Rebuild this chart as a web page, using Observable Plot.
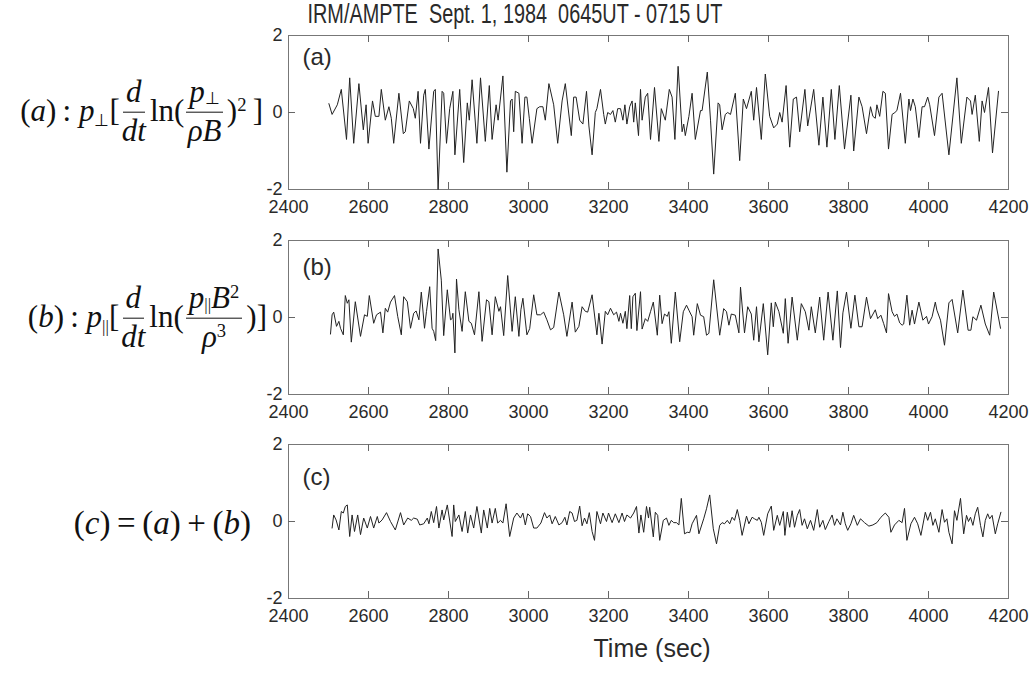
<!DOCTYPE html>
<html>
<head>
<meta charset="utf-8">
<script src="https://cdn.jsdelivr.net/npm/d3@7"></script>
<script src="https://cdn.jsdelivr.net/npm/@observablehq/plot@0.6"></script>
<style>
  html, body { margin: 0; padding: 0; background: #fff; }
  #wrap { position: relative; width: 1036px; height: 675px; overflow: hidden; background: #fff; }
  #wrap svg { position: absolute; left: 0; }
  .sans { font-family: "Liberation Sans", Arial, Helvetica, sans-serif; color: #2a2a2a; position: absolute; white-space: nowrap; }
  .eq { position: absolute; font-family: "Liberation Serif", "Times New Roman", serif; font-size: 31px; color: #111;
        display: flex; align-items: center; white-space: nowrap; transform: translateY(-50%); }
  .eq i { font-style: italic; }
  .frac { display: inline-flex; flex-direction: column; align-items: center; margin: 0 4px 0 2px; }
  .frac .n { border-bottom: 1.5px solid #111; padding: 0 3px 3px 3px; line-height: 1.1; }
  .frac .d { line-height: 1.05; padding-top: 2px; }
  .sb { font-size: 0.55em; position: relative; top: 0.3em; font-style: normal; }
  .n .sb { top: 0.12em; }
  .sp { font-size: 0.6em; position: relative; top: -0.55em; }
</style>
</head>
<body>
<div id="wrap">
  <div class="sans" id="title" style="font-size:27px; line-height:27px; top:1px;">IRM/AMPTE&nbsp; Sept. 1, 1984&nbsp; 0645UT - 0715 UT</div>
  <div class="sans" id="xlab" style="font-size:25px; line-height:25px; top:636px;">Time (sec)</div>

  <div class="eq" id="eqA" style="right:773px; top:111px;">
    <span>(<i>a</i>)&thinsp;: <i>p</i><span class="sb">⊥</span>[</span>
    <span class="frac"><span class="n"><i>d</i></span><span class="d"><i>dt</i></span></span>
    <span>ln(</span>
    <span class="frac"><span class="n"><i>p</i><span class="sb">⊥</span></span><span class="d"><i>ρB</i></span></span>
    <span>)<span class="sp">2</span>&thinsp;]</span>
  </div>

  <div class="eq" id="eqB" style="right:769px; top:317px;">
    <span>(<i>b</i>)&thinsp;: <i>p</i><span class="sb">||</span>[</span>
    <span class="frac"><span class="n"><i>d</i></span><span class="d"><i>dt</i></span></span>
    <span>ln(</span>
    <span class="frac"><span class="n"><i>p</i><span class="sb">||</span><i>B</i><span class="sp">2</span></span><span class="d"><i>ρ</i><span class="sp">3</span></span></span>
    <span>)]</span>
  </div>

  <div class="eq" id="eqC" style="right:785px; top:523px; font-size:33px;">
    <span>(<i>c</i>)&thinsp;=&thinsp;(<i>a</i>)&thinsp;+&thinsp;(<i>b</i>)</span>
  </div>
</div>
<script>
// ---- Data (time in sec, value) ----
const xTicks = [2400, 2600, 2800, 3000, 3200, 3400, 3600, 3800, 4000, 4200];
const yTicks = [-2, 0, 2];
const panelLabels = ["(a)", "(b)", "(c)"];

const seriesA = [[2501,0.23],[2509,-0.05],[2522,0.2],[2532,0.6],[2545,-0.7],[2553,0.9],[2563,-0.8],[2576,0.75],[2587,-0.45],[2594,0.2],[2599,-0.8],[2610,0.3],[2617,-0.1],[2626,-0.1],[2632,0.6],[2642,-0.2],[2651,0.15],[2657,-0.15],[2663,-0.8],[2676,0.5],[2687,-0.55],[2692,-0.5],[2702,0.3],[2712,0.1],[2717,-0.15],[2724,0.55],[2730,-0.8],[2738,0.45],[2742,0.6],[2751,-0.95],[2763,0.55],[2767,0.6],[2774,-2.0],[2784,0.55],[2788,0.5],[2795,-0.8],[2803,0.1],[2811,0.55],[2816,-1.1],[2828,0.6],[2838,-1.3],[2847,0.25],[2852,-0.2],[2859,0.85],[2871,-0.8],[2880,0.9],[2892,-0.75],[2902,0.7],[2909,-0.7],[2919,0.2],[2924,-0.2],[2936,0.95],[2946,-1.55],[2955,0.3],[2959,0.35],[2963,-0.5],[2967,0.55],[2976,0.5],[2984,-0.8],[2991,0.4],[2996,0.4],[3002,-0.15],[3009,-0.8],[3021,0.1],[3028,0.15],[3036,0.15],[3042,-0.2],[3051,0.75],[3063,0.2],[3073,-0.8],[3084,0.3],[3092,0.75],[3107,-0.6],[3113,0.4],[3119,0.4],[3128,-0.2],[3136,-0.3],[3145,0.55],[3151,-0.35],[3159,-1.1],[3167,0.0],[3171,0.1],[3180,0.6],[3188,-0.05],[3192,-0.3],[3198,0.0],[3205,-0.05],[3211,0.05],[3217,-0.25],[3223,0.1],[3230,0.1],[3236,-0.2],[3241,0.2],[3246,-0.3],[3253,0.15],[3259,0.3],[3263,-0.25],[3267,0.25],[3275,-0.6],[3280,0.6],[3284,-0.2],[3292,0.4],[3298,0.5],[3305,-0.7],[3315,0.65],[3326,-0.75],[3332,0.1],[3342,-0.2],[3352,0.6],[3359,0.4],[3366,-0.7],[3374,1.2],[3384,-0.5],[3388,-0.3],[3392,-0.6],[3401,-0.1],[3409,0.5],[3417,-0.7],[3430,0.05],[3434,0.05],[3447,1.05],[3455,-0.2],[3463,-1.6],[3474,0.25],[3478,0.2],[3484,-0.45],[3492,-0.05],[3498,0.0],[3505,-0.05],[3517,0.5],[3528,-1.25],[3537,0.35],[3545,0.1],[3557,0.55],[3563,-0.2],[3570,0.65],[3582,-0.7],[3592,1.0],[3603,-0.1],[3613,-0.4],[3622,-0.3],[3628,0.0],[3634,-0.25],[3644,0.7],[3653,-0.9],[3662,0.35],[3670,0.4],[3678,-0.5],[3691,0.6],[3698,-0.35],[3713,0.6],[3726,-0.85],[3736,0.4],[3746,-0.9],[3757,0.6],[3766,-0.7],[3777,0.7],[3790,-0.95],[3806,0.45],[3813,-1.0],[3826,0.4],[3834,0.15],[3845,-0.55],[3855,0.15],[3861,-0.1],[3867,-0.15],[3871,0.2],[3878,-0.1],[3886,0.55],[3892,0.5],[3900,-0.95],[3909,-0.05],[3916,0.0],[3921,0.05],[3930,0.5],[3942,-0.8],[3951,0.35],[3955,0.05],[3961,0.35],[3967,0.15],[3976,-0.65],[3984,0.15],[3990,0.15],[3998,0.4],[4003,0.2],[4015,-0.6],[4026,0.4],[4034,0.5],[4051,-1.1],[4071,0.9],[4082,-0.8],[4096,0.4],[4105,0.3],[4109,-0.05],[4117,0.45],[4127,-0.75],[4134,0.3],[4140,0.0],[4150,0.65],[4160,-1.05],[4175,0.55]];

const seriesB = [[2505,-0.43],[2509,0.07],[2513,0.14],[2520,-0.23],[2526,-0.1],[2530,-0.28],[2537,-0.45],[2542,0.57],[2547,0.37],[2551,0.46],[2557,-0.64],[2567,0.41],[2580,-0.49],[2590,0.07],[2597,0.03],[2602,0.57],[2613,-0.15],[2620,0.07],[2630,0.14],[2636,-0.4],[2642,0.24],[2648,0.14],[2655,0.4],[2665,0.57],[2673,0.03],[2682,-0.45],[2688,0.54],[2697,0.41],[2705,-0.28],[2713,0.11],[2719,0.17],[2726,-0.06],[2732,0.66],[2740,-0.28],[2745,0.16],[2753,0.8],[2759,-0.28],[2763,-0.36],[2768,-0.6],[2774,1.78],[2782,0.97],[2788,-0.47],[2797,0.72],[2805,-0.06],[2809,-0.03],[2811,0.11],[2816,-0.92],[2820,1.0],[2826,0.2],[2834,-0.36],[2842,0.67],[2851,-0.1],[2857,-0.15],[2865,-0.45],[2876,0.67],[2884,-0.62],[2895,0.46],[2901,0.41],[2909,-0.45],[2917,0.54],[2926,0.16],[2930,0.28],[2938,-0.47],[2948,1.09],[2959,-0.36],[2967,0.54],[2976,-0.49],[2981,0.2],[2986,0.5],[2996,-0.45],[3003,-0.29],[3013,0.59],[3021,0.07],[3030,0.07],[3038,0.14],[3046,-0.06],[3055,-0.32],[3063,-0.26],[3076,0.66],[3088,0.07],[3096,-0.49],[3109,0.4],[3117,-0.38],[3126,-0.23],[3134,0.28],[3142,0.16],[3148,0.14],[3159,0.59],[3171,-0.45],[3176,0.11],[3184,-0.69],[3192,0.16],[3198,0.07],[3205,0.24],[3213,0.07],[3220,0.14],[3226,-0.1],[3230,0.11],[3236,-0.15],[3242,0.16],[3246,-0.29],[3253,0.57],[3257,-0.29],[3261,0.54],[3267,0.63],[3271,-0.34],[3280,0.67],[3284,-0.3],[3292,-0.03],[3298,-0.1],[3305,0.15],[3312,0.4],[3322,-0.46],[3328,0.58],[3334,-0.16],[3340,0.09],[3347,0.03],[3351,0.15],[3357,-0.67],[3367,0.66],[3378,-0.63],[3387,0.15],[3395,0.32],[3401,0.19],[3409,0.02],[3413,-0.46],[3422,0.36],[3430,0.06],[3438,0.02],[3445,-0.46],[3451,-0.41],[3463,0.98],[3478,-0.46],[3488,0.23],[3495,0.15],[3501,-0.2],[3507,0.09],[3517,0.06],[3526,-0.4],[3530,0.79],[3540,-0.4],[3548,0.28],[3557,0.09],[3563,-0.59],[3570,0.28],[3576,-0.63],[3587,0.36],[3598,-0.97],[3607,0.38],[3612,-0.24],[3617,0.4],[3626,0.15],[3637,-0.41],[3642,0.49],[3649,-0.67],[3659,0.53],[3672,-0.59],[3682,0.36],[3692,0.15],[3701,-0.33],[3707,0.28],[3717,-0.4],[3728,0.53],[3738,-0.59],[3749,0.66],[3761,-0.59],[3772,0.69],[3780,-0.78],[3786,0.12],[3795,0.66],[3806,-0.28],[3816,0.58],[3826,-0.24],[3834,-0.24],[3845,0.53],[3855,-0.03],[3867,0.2],[3873,-0.03],[3881,0.06],[3888,-0.16],[3895,-0.4],[3900,0.62],[3909,0.15],[3915,0.03],[3921,0.09],[3928,-0.14],[3934,-0.2],[3938,-0.17],[3946,0.58],[3953,-0.2],[3959,0.19],[3965,-0.17],[3976,0.4],[3986,-0.07],[3995,0.03],[4000,-0.17],[4009,0.02],[4017,0.4],[4021,0.19],[4030,-0.07],[4040,-0.72],[4051,0.38],[4059,0.47],[4073,-0.4],[4086,0.71],[4099,-0.33],[4106,-0.33],[4111,0.02],[4120,-0.07],[4131,0.32],[4142,-0.17],[4153,-0.46],[4163,0.66],[4180,-0.28]];

const timesC = [2509,2513,2519,2526,2532,2537,2542,2547,2553,2559,2565,2573,2580,2588,2597,2605,2613,2622,2626,2634,2645,2655,2667,2680,2688,2698,2707,2713,2722,2728,2738,2747,2751,2757,2763,2770,2776,2784,2788,2797,2809,2813,2817,2826,2834,2842,2848,2855,2863,2871,2882,2888,2897,2903,2909,2917,2923,2930,2936,2944,2953,2963,2971,2980,2986,2992,2998,3005,3013,3021,3031,3040,3046,3053,3059,3067,3076,3084,3091,3096,3103,3109,3115,3121,3128,3134,3140,3146,3152,3159,3165,3171,3180,3186,3195,3200,3209,3217,3226,3234,3240,3246,3255,3263,3270,3276,3281,3288,3295,3300,
  3303,3312,3317,3323,3328,3337,3345,3351,3357,3363,3370,3376,3382,3390,3397,3403,3409,3420,3426,3438,3445,3453,3462,3470,3478,3484,3490,3497,3503,3509,3515,3522,3528,3534,3545,3551,3559,3565,3572,3576,3582,3588,3598,3607,3613,3622,3628,3637,3641,3647,3653,3659,3665,3672,3678,3684,3690,3697,3705,3713,3722,3728,3736,3742,3751,3759,3765,3771,3780,3786,3792,3798,3806,3813,3822,3830,3840,3851,3861,3871,3881,3892,3901,3906,3915,3926,3934,3940,3946,3956,3965,3973,3981,3992,3998,4005,4011,4017,4026,4034,4040,4046,4051,4059,4065,4071,4080,4088,4095,4100,4105,4111,4117,4123,4130,4136,4142,4148,4153,4159,4167,4173,4181];
const valuesC = [-0.17,0.17,0.04,-0.22,0.26,0.22,0.39,0.43,-0.39,0.17,-0.26,0.17,-0.34,0.09,-0.17,0.13,-0.17,0.13,-0.04,0.04,0.23,0,-0.22,0.23,-0.09,0.09,0.03,0.09,0.06,-0.09,-0.06,0.09,-0.06,0.26,-0.03,0.39,-0.17,0.3,0.04,0.43,-0.39,0.43,0,0.17,-0.26,0.26,-0.3,0.17,-0.17,0.39,-0.3,0.3,-0.17,0.34,-0.04,0.34,-0.04,0.03,-0.04,0.46,-0.39,0.09,0.22,0.09,0.22,-0.09,0.2,0.13,-0.17,-0.17,-0.04,0.23,0.09,0.17,-0.06,0.13,-0.09,-0.03,0.11,-0.09,0.26,0.22,0,0.03,0.4,-0.11,0.09,-0.06,0.23,-0.26,-0.49,0.26,-0.06,0.22,0,0.22,-0.03,0.2,-0.03,0.22,0,0.17,0.09,0.22,0.39,-0.3,0.17,-0.28,0.39,0.09,
  0.37,-0.4,0.24,0.16,-0.49,0.03,0.09,-0.1,0.03,-0.03,-0.03,-0.09,0.6,-0.32,-0.28,-0.29,-0.06,0.16,-0.32,0.07,0.33,0.69,-0.19,-0.58,-0.1,-0.03,-0.06,0.03,-0.06,0.11,0.03,0.31,0.03,-0.36,0.14,-0.06,0.11,0.07,0.03,0.11,-0.02,-0.36,0.2,0.4,-0.23,0.16,-0.1,0.26,-0.36,0.24,-0.15,0.28,-0.15,0.16,0.31,-0.1,0.07,-0.19,0.03,-0.23,0.31,-0.15,0.03,-0.21,0,0.17,-0.1,0.07,-0.09,0.24,-0.06,-0.23,-0.06,0.16,-0.1,0.07,-0.03,-0.12,-0.09,-0.03,0.11,0.22,0.11,-0.28,-0.09,0.03,-0.03,0.34,-0.49,-0.06,0.11,-0.06,-0.36,0.24,0.03,0.24,-0.1,0.07,-0.28,0.31,-0.02,0.07,-0.28,-0.58,0.28,0.03,0.6,-0.32,0.16,0,0.11,-0.1,0.2,0.37,-0.1,-0.4,0.03,0.2,0.07,0.16,-0.32,-0.06,0.24];
const seriesC = d3.zip(timesC, valuesC);

// ---- Layout ----
const W = 1036, ML = 288, MR = 28;
const frameW = W - ML - MR;
const innerTicks = xTicks.slice(1, -1);

function panel(data, label, cfg) {
  const frameH = cfg.frameH;
  const svg = Plot.plot({
    width: W,
    height: cfg.mt + frameH + cfg.mb,
    marginLeft: ML, marginRight: MR, marginTop: cfg.mt, marginBottom: cfg.mb,
    style: {fontFamily: "'Liberation Sans', Arial, Helvetica, sans-serif", fontSize: "18px", color: "#2a2a2a", background: "transparent", overflow: "visible"},
    x: {domain: [2400, 4200]},
    y: {domain: [-2, 2]},
    marks: [
      Plot.frame({stroke: "#777", strokeWidth: 1}),
      Plot.axisX({ticks: xTicks, tickSize: 0, tickPadding: 11, tickFormat: d => String(d), label: null}),
      Plot.axisY({ticks: yTicks, tickSize: 0, tickPadding: 6, tickFormat: d => String(d), label: null}),
      Plot.tickX(innerTicks, {x: d => d, insetTop: frameH - 7, stroke: "#666"}),
      Plot.tickX(innerTicks, {x: d => d, insetBottom: frameH - 7, stroke: "#666"}),
      Plot.tickY([0], {y: d => d, insetRight: frameW - 7, stroke: "#666"}),
      Plot.tickY([0], {y: d => d, insetLeft: frameW - 7, stroke: "#666"}),
      Plot.line(data, {x: d => d[0], y: d => d[1], stroke: "#222", strokeWidth: 1}),
      Plot.text([label], {text: d => d, frameAnchor: "top-left", dx: 14, dy: cfg.labelDy, lineAnchor: "top", textAnchor: "start", fontSize: 24, fill: "#2a2a2a"})
    ]
  });
  svg.style.top = cfg.top + "px";
  return svg;
}

const wrap = document.getElementById("wrap");
wrap.appendChild(panel(seriesA, panelLabels[0], {top: 0, mt: 35, frameH: 154, mb: 30, labelDy: 12}));
wrap.appendChild(panel(seriesB, panelLabels[1], {top: 219, mt: 21, frameH: 154, mb: 28, labelDy: 17}));
wrap.appendChild(panel(seriesC, panelLabels[2], {top: 422, mt: 22, frameH: 154, mb: 30, labelDy: 23}));

// Title: narrow Helvetica-like look, fit to reference width
const title = document.getElementById("title");
const tw = title.offsetWidth;
title.style.left = (514.5 - tw / 2) + "px";
title.style.transform = `scaleX(${415 / tw})`;
title.style.transformOrigin = "center";

const xlab = document.getElementById("xlab");
xlab.style.left = (652 - xlab.offsetWidth / 2) + "px";
</script>
</body>
</html>
